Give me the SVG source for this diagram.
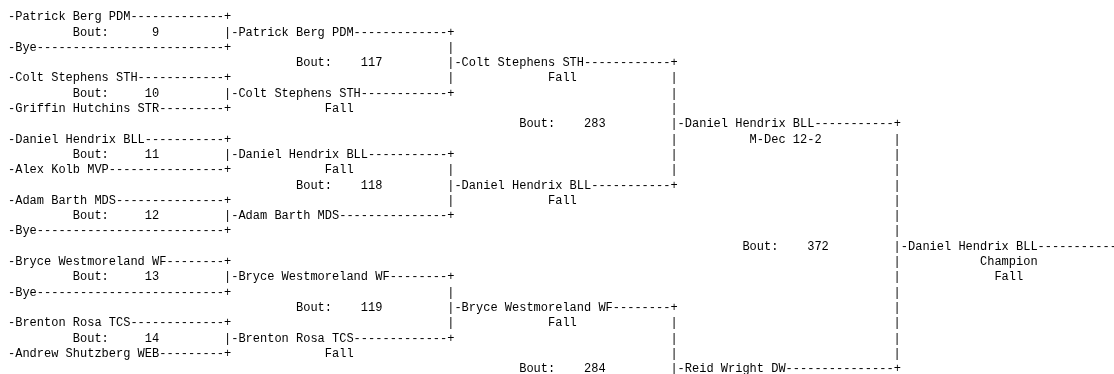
<svg xmlns="http://www.w3.org/2000/svg" width="1114" height="374" viewBox="0 0 1114 374" xml:space="preserve">
<style>
text{font-family:"Liberation Mono","DejaVu Sans Mono",monospace;font-size:12px;fill:#000;white-space:pre}
</style>
<defs><filter id="gray" x="0" y="0" width="1" height="1"><feColorMatrix type="saturate" values="0"/></filter></defs>
<rect width="1114" height="374" fill="#fff"/>
<g filter="url(#gray)" transform="translate(0,-0.5)">
<rect x="0" y="0.5" width="1114" height="374" fill="#fff"/>
<g id="round1">
<g id="bout-9"><text x="8" y="20.7">-Patrick Berg PDM-------------+</text><text x="72.8" y="36">Bout:      9</text><text x="8" y="51.3">-Bye--------------------------+</text></g>
<g id="bout-10"><text x="8" y="81.9">-Colt Stephens STH------------+</text><text x="72.8" y="97.2">Bout:     10</text><text x="8" y="112.5">-Griffin Hutchins STR---------+</text></g>
<g id="bout-11"><text x="8" y="143.1">-Daniel Hendrix BLL-----------+</text><text x="72.8" y="158.4">Bout:     11</text><text x="8" y="173.7">-Alex Kolb MVP----------------+</text></g>
<g id="bout-12"><text x="8" y="204.3">-Adam Barth MDS---------------+</text><text x="72.8" y="219.6">Bout:     12</text><text x="8" y="234.9">-Bye--------------------------+</text></g>
<g id="bout-13"><text x="8" y="265.5">-Bryce Westmoreland WF--------+</text><text x="72.8" y="280.8">Bout:     13</text><text x="8" y="296.1">-Bye--------------------------+</text></g>
<g id="bout-14"><text x="8" y="326.7">-Brenton Rosa TCS-------------+</text><text x="72.8" y="342">Bout:     14</text><text x="8" y="357.3">-Andrew Shutzberg WEB---------+</text></g>
</g>
<g id="round2">
<g id="bout-117"><text x="224" y="36">|-Patrick Berg PDM-------------+</text><text x="296" y="66.6">Bout:    117</text><text x="224" y="97.2">|-Colt Stephens STH------------+</text><text x="324.8" y="112.5">Fall</text></g>
<g id="bout-118"><text x="224" y="158.4">|-Daniel Hendrix BLL-----------+</text><text x="324.8" y="173.7">Fall</text><text x="296" y="189">Bout:    118</text><text x="224" y="219.6">|-Adam Barth MDS---------------+</text></g>
<g id="bout-119"><text x="224" y="280.8">|-Bryce Westmoreland WF--------+</text><text x="296" y="311.4">Bout:    119</text><text x="224" y="342">|-Brenton Rosa TCS-------------+</text><text x="324.8" y="357.3">Fall</text></g>
</g>
<g id="round3">
<g id="bout-283"><text x="447.2" y="66.6">|-Colt Stephens STH------------+</text><text x="548" y="81.9">Fall</text><text x="519.2" y="127.8">Bout:    283</text><text x="447.2" y="189">|-Daniel Hendrix BLL-----------+</text><text x="548" y="204.3">Fall</text></g>
<g id="bout-284"><text x="447.2" y="311.4">|-Bryce Westmoreland WF--------+</text><text x="548" y="326.7">Fall</text><text x="519.2" y="372.6">Bout:    284</text></g>
</g>
<g id="round4">
<g id="bout-372"><text x="670.4" y="127.8">|-Daniel Hendrix BLL-----------+</text><text x="749.6" y="143.1">M-Dec 12-2</text><text x="742.4" y="250.2">Bout:    372</text><text x="670.4" y="372.6">|-Reid Wright DW---------------+</text></g>
</g>
<g id="champion"><text x="893.6" y="250.2">|-Daniel Hendrix BLL------------</text><text x="980" y="265.5">Champion</text><text x="994.4" y="280.8">Fall</text></g>
<g id="connectors">
<text x="447.2" y="51.3">|</text><text x="447.2" y="81.9">|</text>
<text x="447.2" y="173.7">|</text><text x="447.2" y="204.3">|</text>
<text x="447.2" y="296.1">|</text><text x="447.2" y="326.7">|</text>
<text x="670.4" y="81.9">|</text><text x="670.4" y="97.2">|</text><text x="670.4" y="112.5">|</text><text x="670.4" y="143.1">|</text><text x="670.4" y="158.4">|</text><text x="670.4" y="173.7">|</text>
<text x="670.4" y="326.7">|</text><text x="670.4" y="342">|</text><text x="670.4" y="357.3">|</text>
<text x="893.6" y="143.1">|</text><text x="893.6" y="158.4">|</text><text x="893.6" y="173.7">|</text><text x="893.6" y="189">|</text><text x="893.6" y="204.3">|</text><text x="893.6" y="219.6">|</text><text x="893.6" y="234.9">|</text>
<text x="893.6" y="265.5">|</text><text x="893.6" y="280.8">|</text><text x="893.6" y="296.1">|</text><text x="893.6" y="311.4">|</text><text x="893.6" y="326.7">|</text><text x="893.6" y="342">|</text><text x="893.6" y="357.3">|</text>
</g>
</g>
</svg>
